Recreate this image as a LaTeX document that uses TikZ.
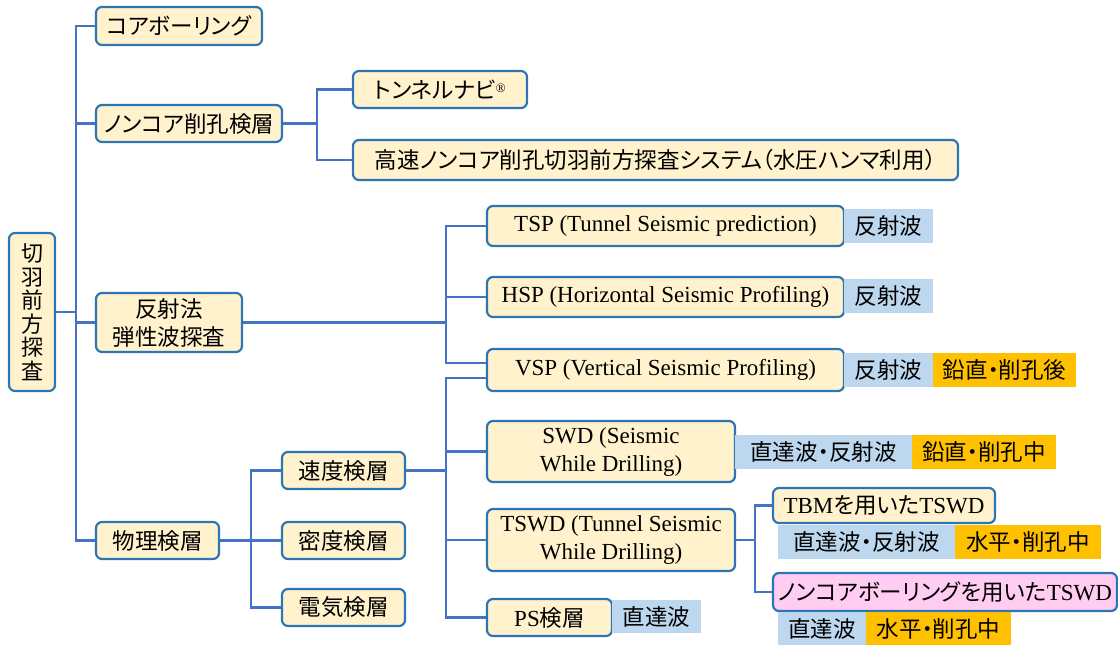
\documentclass[tikz,border=0pt]{standalone}
\usepackage{fontspec}
\setmainfont{Liberation Serif}
\newfontfamily\cjkfont{Noto Sans CJK JP}[RawFeature=+palt]
\newfontfamily\cjkfixed{Noto Sans CJK JP}
\newcommand{\jp}[1]{{\cjkfont\fontsize{22.5}{26}\selectfont #1}}
\definecolor{boxfill}{HTML}{FFF2CC}
\definecolor{boxline}{HTML}{2E75B6}
\definecolor{connline}{HTML}{4472C4}
\definecolor{tagblue}{HTML}{BDD7EE}
\definecolor{tagorange}{HTML}{FFC000}
\definecolor{pinkfill}{HTML}{FFCCF2}
\begin{document}
\begin{tikzpicture}[x=1pt,y=-1pt,
  box/.style={draw=boxline, line width=2.2pt, fill=boxfill, rounded corners=6pt,
    inner sep=0pt, align=center, font=\fontsize{23}{28}\selectfont},
  jpbox/.style={box, font=\cjkfont\fontsize{22.5}{28}\selectfont},
  sz/.style 2 args={minimum width=#1, minimum height=#2},
  tagb/.style={fill=tagblue, inner sep=0pt, font=\cjkfont\fontsize{22.5}{24}\selectfont},
  tago/.style={fill=tagorange, inner sep=0pt, font=\cjkfont\fontsize{22.5}{24}\selectfont},
  conn/.style={draw=connline, line width=2.2pt}
]
\useasboundingbox (0,0) rectangle (1118,646);

% boxes
\node[jpbox, sz={46}{158}, font=\cjkfixed\fontsize{22}{23.5}\selectfont] (root) at (32,312) {切\\羽\\前\\方\\探\\査};
\node[jpbox, sz={166}{38}] (core) at (179,26) {コアボーリング};
\node[jpbox, sz={186}{37}] (noncore) at (189,123.5) {ノンコア削孔検層};
\node[jpbox, sz={174}{37}] (navi) at (440,89.5) {トンネルナビ{\fontfamily{\rmdefault}\selectfont\raisebox{6pt}{\fontsize{13}{13}\selectfont®}}};
\node[jpbox, sz={605}{40}] (kosoku) at (655.5,160) {高速ノンコア削孔切羽前方探査システム（水圧ハンマ利用）};
\node[jpbox, sz={146}{59}] (hansha) at (169,322.5) {反射法\\弾性波探査};
\node[jpbox, sz={123}{37}] (butsuri) at (157.5,540.5) {物理検層};
\node[jpbox, sz={123}{37}] (sokudo) at (343.5,470.5) {速度検層};
\node[jpbox, sz={123}{37}] (mitsudo) at (343.5,540.5) {密度検層};
\node[jpbox, sz={123}{37}] (denki) at (343.5,607.5) {電気検層};

\node[box, sz={357}{40}] (tsp) at (665.5,226) {TSP (Tunnel Seismic prediction)};
\node[box, sz={357}{40}] (hsp) at (665.5,297) {HSP (Horizontal Seismic Profiling)};
\node[box, sz={357}{42}] (vsp) at (665.5,370) {VSP (Vertical Seismic Profiling)};
\node[box, sz={248}{61}] (swd) at (611,451.5) {SWD (Seismic\\While Drilling)};
\node[box, sz={248}{62}] (tswd) at (611,540) {TSWD (Tunnel Seismic\\While Drilling)};
\node[box, sz={125}{37}] (ps) at (549.5,617.5) {PS\jp{検層}};
\node[box, sz={222}{35}] (tbm) at (884,505.5) {TBM\jp{を用いた}TSWD};
\node[box, sz={344}{38}, fill=pinkfill] (ncb) at (945,592) {\jp{ノンコアボーリングを用いた}TSWD};

% tags
\node[tagb, sz={89}{34}] (t1) at (888.5,226) {反射波};
\node[tagb, sz={89}{34}] (t2) at (888.5,296) {反射波};
\node[tagb, sz={89}{34}] (t3) at (888.5,370) {反射波};
\node[tago, sz={143}{34}] (o3) at (1004.5,370) {鉛直・削孔後};
\node[tagb, sz={177}{34}] (t4) at (823.5,452) {直達波・反射波};
\node[tago, sz={144}{34}] (o4) at (984,452) {鉛直・削孔中};
\node[tagb, sz={177}{34}] (t5) at (866.5,542) {直達波・反射波};
\node[tago, sz={146}{34}] (o5) at (1028,542) {水平・削孔中};
\node[tagb, sz={88}{33}] (t6) at (822,628.5) {直達波};
\node[tago, sz={145}{33}] (o6) at (938.5,628.5) {水平・削孔中};
\node[tagb, sz={89}{33}] (t7) at (656.5,616.5) {直達波};

% junction coordinates
\coordinate (j1) at (76,0);
\coordinate (j2) at (317,0);
\coordinate (j3) at (446,0);
\coordinate (j4) at (251,0);
\coordinate (j5) at (755,0);
\coordinate (vspa) at ([yshift=7pt]vsp.west);
\coordinate (vspb) at ([yshift=-8pt]vsp.west);

% connectors
\draw[conn] (root.east) -- (root.east -| j1);
\draw[conn] (core.west) -- (core.west -| j1) -- (butsuri.west -| j1) -- (butsuri.west);
\draw[conn] (noncore.west) -- (noncore.west -| j1);
\draw[conn] (hansha.west) -- (hansha.west -| j1);

\draw[conn] (noncore.east) -- (noncore.east -| j2);
\draw[conn] (navi.west) -- (navi.west -| j2) -- (kosoku.west -| j2) -- (kosoku.west);

\draw[conn] (hansha.east) -- (hansha.east -| j3);
\draw[conn] (tsp.west) -- (tsp.west -| j3) -- (vspa -| j3) -- (vspa);
\draw[conn] (hsp.west) -- (hsp.west -| j3);

\draw[conn] (butsuri.east) -- (butsuri.east -| j4);
\draw[conn] (sokudo.west) -- (sokudo.west -| j4) -- (denki.west -| j4) -- (denki.west);
\draw[conn] (mitsudo.west) -- (mitsudo.west -| j4);

\draw[conn] (sokudo.east) -- (sokudo.east -| j3);
\draw[conn] (vspb) -- (vspb -| j3) -- (ps.west -| j3) -- (ps.west);
\draw[conn] (swd.west) -- (swd.west -| j3);
\draw[conn] (tswd.west) -- (tswd.west -| j3);

\draw[conn] (tswd.east) -- (tswd.east -| j5);
\draw[conn] (tbm.west) -- (tbm.west -| j5) -- (ncb.west -| j5) -- (ncb.west);
\end{tikzpicture}
\end{document}
